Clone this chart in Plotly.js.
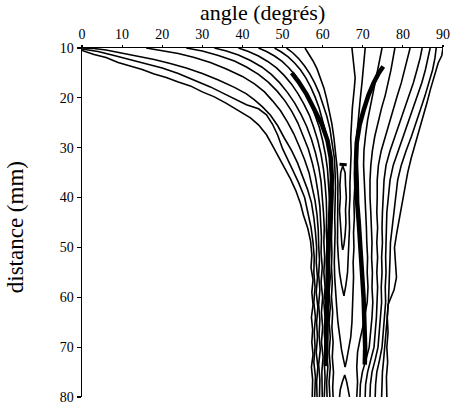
<!DOCTYPE html>
<html>
<head>
<meta charset="utf-8">
<script src="https://cdn.plot.ly/plotly-3.0.1.min.js"></script>
<style>html,body{margin:0;padding:0;background:#fff}#chart{width:451px;height:404px}</style>
</head>
<body>
<div id="chart"></div>
<script>
// Each contour line: [angle (degrés), distance (mm)] points
const L1 = [[0,10.5],[3,11.3],[6,11.9],[9,12.9],[12,13.6],[15,14.3],[18,15.2],[21,15.9],[24,16.8],[27,17.6],[30,18.8],[33,19.8],[36,21.1],[39,22.6],[42,24],[44,25.4],[46,27.4],[47.5,29.6],[49,31.8],[50.5,34],[52,36.3],[53.3,38.6],[54.5,41.3],[55.2,43.5],[56.3,46.2],[57,48.8],[57.3,51.5],[57.1,54],[57.6,56.5],[57.3,59],[57.6,61.5],[57.2,64],[57.5,66.5],[57.3,69],[57.6,71.5],[57.2,74],[57.5,76.5],[57.4,80]];
const L2 = [[0,10.2],[4,10.7],[8,11.5],[12,12.3],[16,13.1],[20,14],[24,15.1],[28,16.4],[32,17.8],[35,19],[38,20.2],[41,21.4],[44,22.2],[46,23.4],[47.5,25.3],[48.8,27.5],[50,30.2],[51.2,32.4],[52.6,34.6],[54,37],[55.5,40],[56.3,43],[57.1,46],[57.6,49],[57.9,52],[57.8,55],[58.1,58],[57.8,61],[58.2,64],[57.9,67],[58.1,70],[57.8,73],[58.2,76],[58,80]];
const L3 = [[0,10],[3,10.1],[6,10.4],[10,11],[14,11.6],[18,12.3],[22,13.1],[26,14],[30,15.1],[34,16.4],[38,17.9],[41,19.2],[43,20.4],[45,21.8],[47,23.5],[48.8,25.6],[50.4,28],[52.2,30.5],[53.7,33],[55,35.6],[56.2,38.3],[57.2,41],[57.8,44],[58.2,47],[58.5,50],[58.4,53],[58.7,56],[58.4,59],[58.8,62],[58.5,65],[58.7,68],[58.4,71],[58.8,74],[58.5,77],[58.6,80]];
const L4 = [[16,10],[20,10.5],[24,11.1],[28,11.9],[32,12.9],[36,14.2],[40,15.7],[43,17.2],[45.5,18.8],[47.5,20.6],[49.5,22.6],[51.2,24.8],[52.8,27.2],[54.2,29.8],[55.5,32.4],[56.6,35],[57.4,37.8],[58.1,40.6],[58.6,43.5],[58.9,46.5],[59,49.5],[59.2,52.5],[59,55.5],[59.3,58.5],[59,61.5],[59.3,64.5],[59.1,67.5],[59.4,70.5],[59,73.5],[59.3,76.5],[59.2,80]];
const L5 = [[26,10],[30,10.6],[34,11.5],[38,12.6],[41,13.8],[44,15.3],[46.5,16.9],[48.7,18.7],[50.6,20.6],[52.3,22.7],[53.8,25],[55.2,27.6],[56.4,30.2],[57.4,33],[58.2,35.8],[58.8,38.7],[59.3,41.8],[59.5,45],[59.7,48],[59.6,51],[59.9,54],[59.6,57],[60,60],[59.7,63],[60,66],[59.7,69],[60.1,72],[59.8,75],[59.9,80]];
const L6 = [[33,10],[36,10.6],[39,11.4],[42,12.5],[44.8,13.8],[47.2,15.3],[49.3,17],[51.2,18.9],[53,21],[54.6,23.3],[56,25.7],[57.2,28.3],[58.2,31],[59,33.8],[59.6,36.8],[60,40],[60.2,43],[60.4,46],[60.3,49],[60.5,52],[60.3,55],[60.6,58],[60.3,61],[60.6,64],[60.4,67],[60.7,70],[60.4,73],[60.6,76],[60.4,80]];
const L7 = [[39,10],[41.5,10.7],[44,11.6],[46.3,12.7],[48.5,14],[50.4,15.5],[52.2,17.2],[53.8,19.1],[55.3,21.2],[56.7,23.5],[57.8,26],[58.8,28.6],[59.6,31.4],[60.2,34.3],[60.6,37.3],[60.9,40.4],[61,43.5],[60.9,46.6],[61.1,49.7],[60.9,52.8],[61.2,56],[60.9,59],[61.2,62],[60.9,65],[61.2,68],[60.9,71],[61.3,74],[61,77],[61.1,80]];
const L8 = [[44,10],[46,10.7],[48,11.6],[49.9,12.7],[51.6,14],[53.2,15.5],[54.6,17.2],[55.9,19.1],[57.1,21.2],[58.2,23.5],[59.2,26],[60,28.6],[60.7,31.4],[61.2,34.3],[61.5,37.3],[61.7,40.4],[61.7,43.5],[61.6,46.6],[61.8,49.7],[61.6,52.8],[61.9,56],[61.6,59],[61.9,62],[61.6,65],[61.9,68],[61.6,71],[61.9,74],[61.6,77],[61.8,80]];
const L9 = [[48,10],[49.7,10.8],[51.4,11.8],[53,13],[54.5,14.4],[55.8,16],[57,17.8],[58.1,19.8],[59.1,22],[60,24.4],[60.8,27],[61.5,29.8],[62,32.7],[62.4,35.7],[62.6,38.8],[62.5,42],[62.3,45],[62.2,48],[62.3,51],[62.2,54],[62.4,57],[62.2,60],[62.5,63],[62.3,66],[62.6,69],[62.4,72],[62.7,75],[62.5,78],[62.6,80]];
const L10 = [[51,10],[52.6,11],[54.1,12.2],[55.5,13.6],[56.8,15.2],[58,17],[59.1,19],[60.1,21.2],[61,23.6],[61.8,26.2],[62.4,29],[62.9,32],[63.1,35],[63.2,38],[63.1,41],[63,44],[63.1,47],[63,50],[62.9,53],[63,56],[63.2,59],[63.5,62],[63.8,65],[64.2,68],[64.7,70.5],[65.2,72.5],[65.6,74]];
const L11 = [[55.6,10],[56.6,11.2],[57.6,12.6],[58.6,14.2],[59.5,16],[60.3,18],[61,20.2],[61.7,22.6],[62.3,25.2],[62.8,28],[63.2,31],[63.6,34],[63.8,37],[63.8,40],[63.7,43],[63.8,46],[63.7,49],[63.9,52],[64.2,55],[64.7,57.5],[65.3,59.7]];
const R1 = [[67.3,10],[67.6,12],[67.9,14],[68.1,16],[67.9,18],[67.6,20],[67.4,22],[67.2,25],[67,28],[67.1,31],[66.9,34],[66.8,37],[66.8,40],[66.6,43],[66.7,46],[66.5,49],[66.4,52],[66.2,55],[65.8,57.5],[65.3,59.7]];
const R2 = [[70.6,10],[70.4,12],[70.2,14],[69.8,17],[69.4,20],[69.1,23],[68.7,26],[68.3,29],[68.1,32],[67.9,35],[68,38],[67.8,41],[67.9,44],[67.7,47],[67.8,50],[67.6,53],[67.7,56],[67.6,59],[67.5,62],[67.3,65],[67,68],[66.5,70.5],[66,72.5],[65.6,74]];
const R3 = [[74.8,10],[74.3,12],[73.9,14],[73.3,16.5],[72.6,19],[71.9,21.5],[71.2,24.5],[70.7,27.5],[70.3,30.5],[70.2,33.5],[70.4,36.5],[70.6,40],[70.7,43],[70.9,46],[71,49],[71.2,52],[71.1,55],[71.3,58],[71.1,61],[70.6,63.5],[70,66],[69.3,68.5],[68.7,71],[68.5,74],[68.7,77],[68.5,80]];
const R4 = [[78,10],[77.6,12],[77,14.5],[76.3,17],[75.6,19.5],[74.7,22],[73.8,24.8],[73,27.7],[72.4,30.6],[72,33.6],[71.8,36.6],[71.8,40],[72,43],[72.2,46],[72.3,49],[72.2,52],[72.4,55],[72.3,58],[72.5,61],[72.3,64],[71.9,67],[71.6,70],[70.8,72.5],[69.9,75],[69.4,77.5],[69.3,80]];
const R5 = [[81.8,10],[81.2,12],[80.5,14.4],[79.6,17],[78.6,19.6],[77.6,22.3],[76.6,25],[75.6,27.8],[74.6,30.6],[73.9,33.5],[73.6,36.5],[73.6,40],[73.5,43],[73.7,46],[73.5,49],[73.7,52],[73.5,55],[73.7,58],[73.6,61],[73.4,64],[73.1,67],[72.8,70],[72,72.5],[71.2,75],[70.7,77.5],[70.6,80]];
const R6 = [[84.8,10],[84.3,12],[83.5,14.4],[82.6,17],[81.5,19.6],[80.4,22.3],[79.2,25],[78,27.8],[76.8,30.6],[75.8,33.5],[75.3,36.5],[75,40],[74.9,43],[74.8,46],[74.9,49],[74.7,52],[74.8,55],[74.6,58],[74.7,61],[74.4,64],[74.1,67],[73.8,70],[73.1,72.5],[72.3,75],[71.9,77.5],[71.8,80]];
const R7 = [[86.8,10],[86.3,12],[85.6,14.4],[84.7,17],[83.6,19.6],[82.5,22.3],[81.3,25],[80.1,27.8],[78.8,30.6],[77.6,33.5],[76.8,36.5],[76.3,40],[76,43],[75.9,46],[75.8,49],[75.7,52],[75.8,55],[75.6,58],[75.7,61],[75.4,64],[75.2,67],[74.8,70],[74.2,72.5],[73.5,75],[73.2,77.5],[73.1,80]];
const R8 = [[88.3,10],[88,12],[87.4,14.4],[86.5,17],[85.5,19.6],[84.4,22.3],[83.3,25],[82.1,27.8],[80.8,30.6],[79.6,33.5],[78.7,36.5],[78.2,40],[77.6,43],[77.2,46],[76.9,49],[76.8,52],[76.7,55],[76.6,58],[76.4,61],[76.1,64],[75.8,67],[75.6,70],[75.2,72.5],[74.9,75],[74.8,77.5],[74.7,80]];
const R9 = [[90,10],[89.7,11.5],[88.8,13],[87.8,15.5],[86.9,18.2],[86,21],[85,23.8],[84,26.5],[83,29.2],[82.1,32],[81.2,35],[80.5,38],[79.8,41],[79.1,44],[78.5,47],[77.9,50],[78.2,53],[78.4,56],[77.8,58.5],[77.1,60],[76.3,61.5],[76.1,64],[76.3,67],[76,70],[76.2,73],[75.9,76],[76,80]];
const LOOP = [[65,33.6],[64.5,35],[64.3,37.5],[64.4,40],[64.2,42.5],[64.4,45],[64.5,47.5],[64.8,49.5],[65,50.5],[65.3,49.5],[65.6,47.5],[65.8,45],[65.7,42.5],[65.9,40],[65.7,37.5],[65.6,35],[65,33.6]];
const LAMBDA = [[64.2,80],[64.4,78.5],[64.9,77],[65.5,75.6],[66,77],[66.4,78.5],[66.7,80]];
const DASH = [[64.2,33.3],[66,33.4]];
const THICK_LEFT = [[52.3,15],[54,16.8],[56,19.3],[58,22.3],[59.8,25.3],[61.2,28.5],[62,32],[62.3,36],[62.2,40],[61.8,45],[61.4,50],[61.2,55],[61.1,60],[61,65],[60.9,70],[60.8,73.8]];
const THICK_RIGHT = [[75.1,13.7],[74,15],[72.7,17],[71.4,19.5],[70.2,22.5],[69.2,25.5],[68.5,29],[68.3,33],[68.5,37],[68.6,41],[69,45],[69.3,50],[69.8,55],[70.2,60],[70.5,65],[70.6,70],[70.5,73.5]];

const xTicks = [0,10,20,30,40,50,60,70,80,90];
const yTicks = [10,20,30,40,50,60,70,80];
const xTitle = 'angle (degrés)';
const yTitle = 'distance (mm)';

const thin = [L1,L2,L3,L4,L5,L6,L7,L8,L9,L10,L11,R1,R2,R3,R4,R5,R6,R7,R8,R9,LOOP,LAMBDA];
const traces = [];
thin.forEach(p => traces.push({x:p.map(d=>d[0]), y:p.map(d=>d[1]), mode:'lines', type:'scatter',
  line:{color:'#000', width:1.6}, hoverinfo:'skip', showlegend:false}));
[THICK_LEFT, THICK_RIGHT].forEach(p => traces.push({x:p.map(d=>d[0]), y:p.map(d=>d[1]), mode:'lines', type:'scatter',
  line:{color:'#000', width:4.5}, hoverinfo:'skip', showlegend:false}));
traces.push({x:DASH.map(d=>d[0]), y:DASH.map(d=>d[1]), mode:'lines', type:'scatter',
  line:{color:'#000', width:3}, hoverinfo:'skip', showlegend:false});

const serif = 'Liberation Serif, Times New Roman, serif';
const layout = {
  width:451, height:404,
  margin:{l:82, r:8, t:48, b:7, pad:0},
  paper_bgcolor:'#fff', plot_bgcolor:'#fff',
  showlegend:false,
  font:{family:serif, color:'#000'},
  xaxis:{
    side:'top', range:[0,90], tickvals:xTicks, ticktext:xTicks.map(String),
    showgrid:false, zeroline:false, showline:true, linecolor:'#000', linewidth:1.5,
    ticks:'outside', ticklen:2, tickcolor:'#000', tickwidth:1.2,
    tickfont:{family:serif, size:14, color:'#000'},
    automargin:false
  },
  yaxis:{
    range:[80,10], tickvals:yTicks, ticktext:yTicks.map(String),
    showgrid:false, zeroline:false, showline:true, linecolor:'#000', linewidth:1.5,
    ticks:'outside', ticklen:4, tickcolor:'#000', tickwidth:1.2,
    tickfont:{family:serif, size:14, color:'#000'},
    ticklabeloverflow:'allow',
    automargin:false
  },
  annotations:[
    {text:xTitle, xref:'paper', yref:'paper', x:0.5, y:1, xanchor:'center', yanchor:'bottom',
     yshift:21, showarrow:false, font:{family:serif, size:22, color:'#000'}},
    {text:yTitle, xref:'paper', yref:'paper', x:0, y:0.485, xanchor:'right', yanchor:'middle',
     xshift:-52, textangle:-90, showarrow:false, font:{family:serif, size:23, color:'#000'}}
  ]
};
Plotly.newPlot('chart', traces, layout, {staticPlot:true, displayModeBar:false});
</script>
</body>
</html>
